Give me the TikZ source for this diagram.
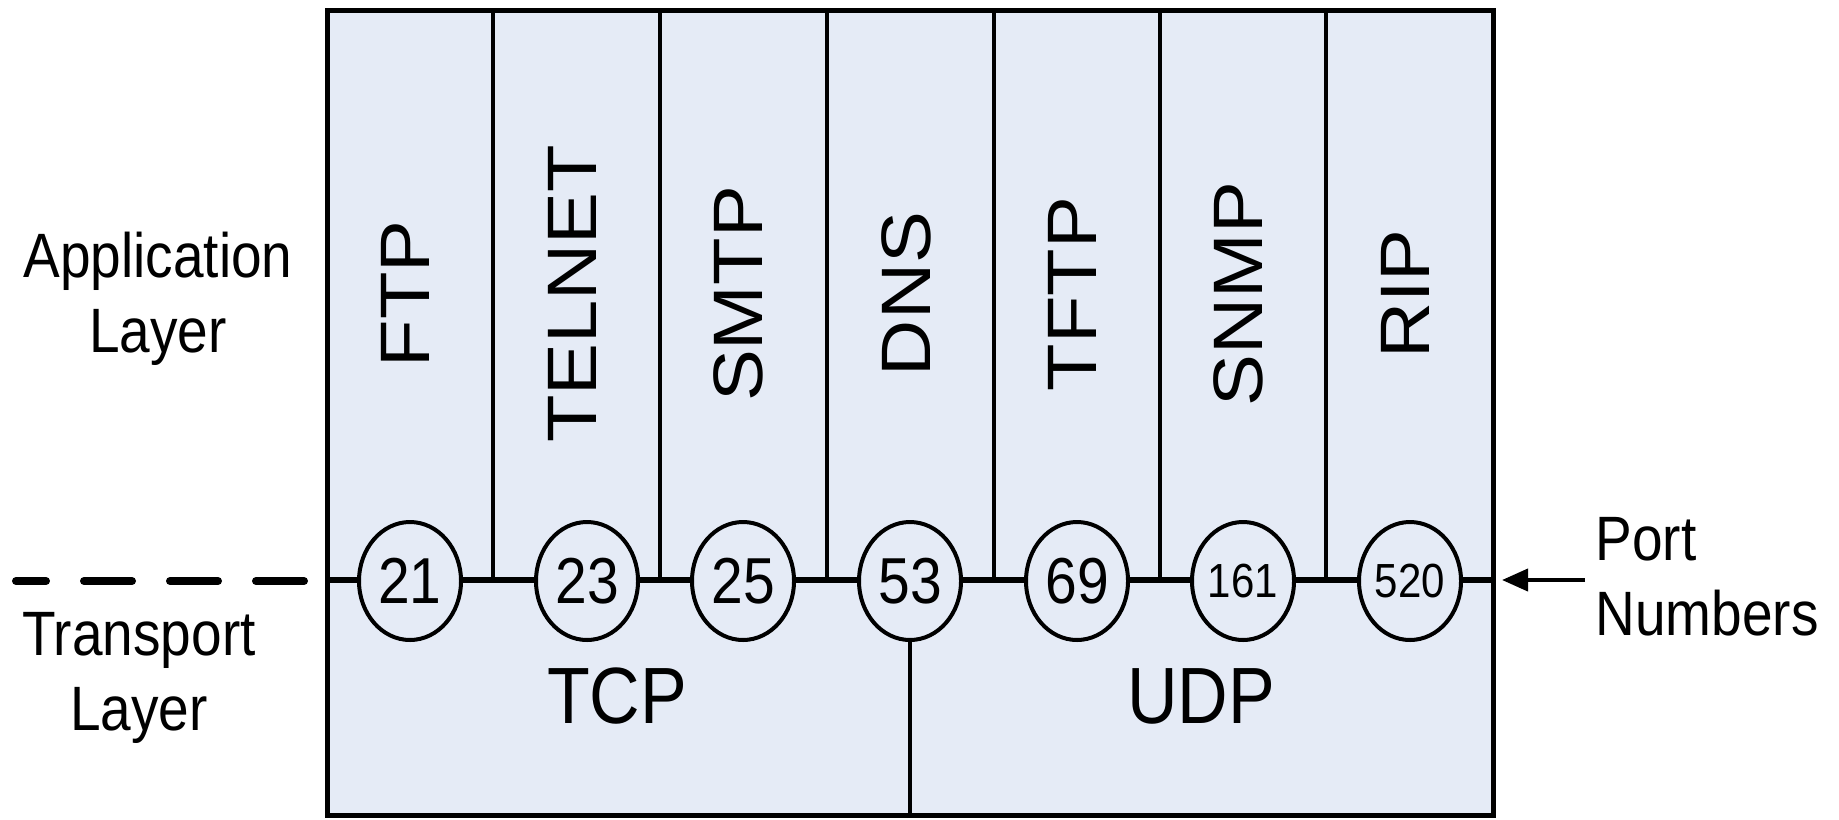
\documentclass[tikz,border=0pt]{standalone}
\usepackage{fontspec}
\setmainfont{Liberation Sans}
\usepackage{graphicx}
\usetikzlibrary{shapes.geometric,arrows.meta}
\definecolor{boxfill}{RGB}{229,235,246}
\newcommand\vs[1]{\scalebox{1}[1.14]{#1}}
\newcommand\hs[1]{\scalebox{1.11}[1]{#1}}
\begin{document}
\begin{tikzpicture}[x=0.5pt,y=-0.5pt,
  applbl/.style={rotate=90, inner sep=0pt, font=\fontsize{35}{40}\selectfont},
  portnode/.style={ellipse, draw, line width=2pt, fill=boxfill, minimum width=51pt, minimum height=59pt, inner sep=0pt, font=\fontsize{28.5}{32}\selectfont},
  smallport/.style={portnode, font=\fontsize{21}{24}\selectfont},
  divider/.style={line width=2pt},
  protolbl/.style={inner sep=0pt, anchor=base, font=\fontsize{35}{40}\selectfont},
  sidelbl/.style={inner sep=0pt, font=\fontsize{27.5}{33.3}\selectfont},
  layerline/.style={line width=4pt, line cap=round, dash pattern=on 24pt off 19pt},
  pointer/.style={line width=2pt, -{Triangle[length=13pt,width=11pt]}}
]
\useasboundingbox (0,0) rectangle (1839,819);
% main box
\coordinate (tl) at (327,10);
\coordinate (br) at (1493,815);
\draw[fill=boxfill, line width=2.5pt] (tl) rectangle (br);
% port line
\coordinate (pl) at (327,580);
\coordinate (pr) at (1493,580);
\draw[line width=3pt] (pl) -- (pr);
% column dividers
\foreach \x/\n in {493/1,660/2,827/3,994/4,1160/5,1326/6}{
  \coordinate (dt\n) at (\x,10);
  \draw[divider] (dt\n) -- (dt\n |- pl);
}
% application protocols
\node[applbl] (ftp) at (405,294) {\hs{FTP}};
\node[applbl] (telnet) at (572,294) {\hs{TELNET}};
\node[applbl] (smtp) at (738,294) {\hs{SMTP}};
\node[applbl] (dns) at (906,294) {\hs{DNS}};
\node[applbl] (tftp) at (1072,294) {\hs{TFTP}};
\node[applbl] (snmp) at (1238,294) {\hs{SNMP}};
\node[applbl] (rip) at (1405,294) {\hs{RIP}};
% ports
\node[portnode] (p21) at (410,581) {\vs{21}};
\node[portnode] (p23) at (587,581) {\vs{23}};
\node[portnode] (p25) at (743,581) {\vs{25}};
\node[portnode] (p53) at (910,581) {\vs{53}};
\node[portnode] (p69) at (1077,581) {\vs{69}};
\node[smallport] (p161) at (1243,581) {\vs{161}};
\node[smallport] (p520) at (1410,581) {\vs{520}};
% TCP / UDP divider
\draw[divider] (p53.south) -- (p53.south |- br);
\node[protolbl] (tcp) at (617,723) {\vs{TCP}};
\node[protolbl] (udp) at (1201,723) {\vs{UDP}};
% side labels
\node[sidelbl, anchor=base] (applayer) at (158,277) {\vs{\begin{tabular}[t]{@{}c@{}}Application\\Layer\end{tabular}}};
\node[sidelbl, anchor=base] (translayer) at (139,655) {\vs{\begin{tabular}[t]{@{}c@{}}Transport\\Layer\end{tabular}}};
\node[sidelbl, anchor=base west] (portnums) at (1595,560) {\vs{\begin{tabular}[t]{@{}l@{}}Port\\Numbers\end{tabular}}};
% dashed layer boundary
\coordinate (dashR) at (304,581);
\coordinate (dashL) at (16,581);
\draw[layerline] (dashR) -- (dashL);
% arrow
\coordinate (arrS) at (1585,580);
\coordinate (arrE) at (1502,580);
\draw[pointer] (arrS) -- (arrE);
\end{tikzpicture}
\end{document}
